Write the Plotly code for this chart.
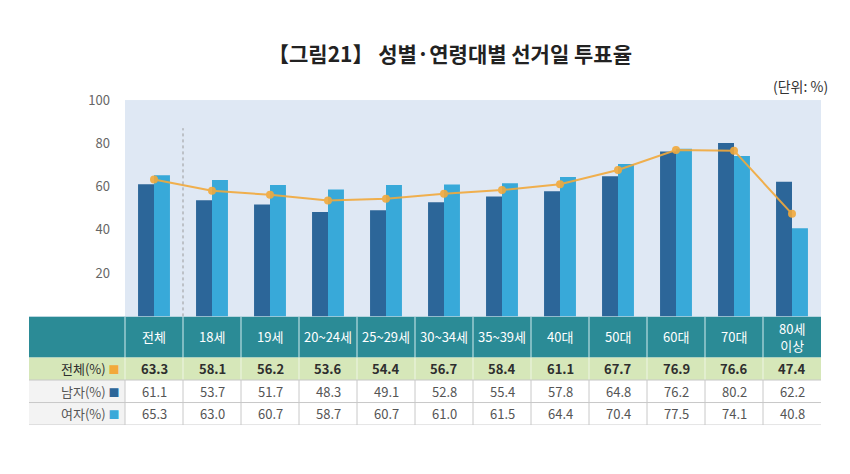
import plotly.graph_objects as go

categories = ["전체", "18세", "19세", "20~24세", "25~29세", "30~34세", "35~39세",
              "40대", "50대", "60대", "70대", "80세<br>이상"]
total = [63.3, 58.1, 56.2, 53.6, 54.4, 56.7, 58.4, 61.1, 67.7, 76.9, 76.6, 47.4]
male = [61.1, 53.7, 51.7, 48.3, 49.1, 52.8, 55.4, 57.8, 64.8, 76.2, 80.2, 62.2]
female = [65.3, 63.0, 60.7, 58.7, 60.7, 61.0, 61.5, 64.4, 70.4, 77.5, 74.1, 40.8]
row_labels = ["전체(%)", "남자(%)", "여자(%)"]
y_ticks = [20, 40, 60, 80, 100]

C_MALE = "#2c6699"
C_FEMALE = "#38a9d9"
C_TOTAL = "#f2a93b"
C_HEAD = "#2b8b96"
C_GREEN = "#d6e7b9"
C_LGRAY = "#f3f3f3"
C_GRID = "#c8c8c8"
FONT = "Noto Sans CJK KR"

W, H = 850, 474
n = len(categories)
x = list(range(n))

# table geometry (pixels)
TABLE_LEFT, PLOT_LEFT, PLOT_RIGHT = 29, 125, 821
PLOT_TOP, PLOT_BOTTOM = 92, 313
HEADER_H, ROW_H = 42, 23
col_w = (PLOT_RIGHT - PLOT_LEFT) / n
label_w = (PLOT_LEFT - TABLE_LEFT) / col_w          # in category units
table_h = HEADER_H + ROW_H * len(row_labels)

fig = go.Figure()
fig.add_trace(go.Bar(x=x, y=male, marker_color=C_MALE, marker_line_width=0,
                     name="남자", showlegend=False))
fig.add_trace(go.Bar(x=x, y=female, marker_color=C_FEMALE, marker_line_width=0,
                     name="여자", showlegend=False))
fig.add_trace(go.Scatter(x=x, y=total, mode="lines+markers", name="전체",
                         line=dict(color=C_TOTAL, width=2),
                         marker=dict(color=C_TOTAL, size=8), opacity=0.9,
                         showlegend=False))

# ---- table (drawn on its own axes x2/y2) ----
xl = -0.5 - label_w
shapes = []
annotations = []
row_edges = [0, HEADER_H] + [HEADER_H + ROW_H * (k + 1) for k in range(len(row_labels))]

# header
shapes.append(dict(type="rect", xref="x2", yref="y2", x0=xl, x1=n - 0.5,
                   y0=0, y1=HEADER_H, fillcolor=C_HEAD, line=dict(width=0), layer="above"))
for i in range(n):
    shapes.append(dict(type="line", xref="x2", yref="y2", x0=i - 0.5, x1=i - 0.5,
                       y0=0, y1=HEADER_H, line=dict(color="#b9dde1", width=1.2), layer="above"))
    annotations.append(dict(text=categories[i], xref="x2", yref="y2", x=i, y=HEADER_H / 2,
                            showarrow=False, xanchor="center", yanchor="middle",
                            font=dict(family=FONT, size=13, color="white")))

# body rows
row_vals = [total, male, female]
row_fill = [C_GREEN, "white", "white"]
label_fill = [C_GREEN, C_LGRAY, C_LGRAY]
row_font = ["#2e2e2e", "#555555", "#555555"]
row_vline = ["#eef5e4", C_GRID, C_GRID]
squares = [C_TOTAL, C_MALE, C_FEMALE]
for r, (lab, vals) in enumerate(zip(row_labels, row_vals)):
    y0, y1 = row_edges[r + 1], row_edges[r + 2]
    ym = (y0 + y1) / 2
    shapes.append(dict(type="rect", xref="x2", yref="y2", x0=xl, x1=-0.5, y0=y0, y1=y1,
                       fillcolor=label_fill[r], line=dict(width=0), layer="above"))
    shapes.append(dict(type="rect", xref="x2", yref="y2", x0=-0.5, x1=n - 0.5, y0=y0, y1=y1,
                       fillcolor=row_fill[r], line=dict(width=0), layer="above"))
    if r > 0:
        shapes.append(dict(type="line", xref="x2", yref="y2", x0=xl, x1=n - 0.5, y0=y0, y1=y0,
                           line=dict(color=C_GRID, width=1), layer="above"))
    for i in range(n):
        shapes.append(dict(type="line", xref="x2", yref="y2", x0=i - 0.5, x1=i - 0.5,
                           y0=y0, y1=y1, line=dict(color=row_vline[r], width=1), layer="above"))
    annotations.append(dict(
        text=f"{lab} <span style='color:{squares[r]};font-size:11px'>■</span>",
        xref="x2", yref="y2", x=-0.5 - 0.05, y=ym, showarrow=False,
        xanchor="right", yanchor="middle",
        font=dict(family=FONT, size=13, color=row_font[r])))
    for i, v in enumerate(vals):
        txt = f"<b>{v:.1f}</b>" if r == 0 else f"{v:.1f}"
        annotations.append(dict(text=txt, xref="x2", yref="y2", x=i, y=ym, showarrow=False,
                                xanchor="center", yanchor="middle",
                                font=dict(family=FONT, size=13, color=row_font[r])))
# bottom line
shapes.append(dict(type="line", xref="x2", yref="y2", x0=xl, x1=n - 0.5,
                   y0=table_h, y1=table_h, line=dict(color=C_GRID, width=1), layer="above"))

# dotted separator between 전체 and 18세
shapes.append(dict(type="line", xref="x", yref="y", x0=0.5, x1=0.5, y0=0, y1=87,
                   line=dict(color="#9a9a9a", width=1, dash="dot")))

annotations.append(dict(text="<b>【그림21】 성별·연령대별 선거일 투표율</b>", xref="paper", yref="paper",
                        x=450 / W, y=1 - 44 / H, showarrow=False, xanchor="center",
                        yanchor="middle", font=dict(family=FONT, size=21, color="#222222")))
annotations.append(dict(text="(단위: %)", xref="paper", yref="paper",
                        x=830 / W, y=1 - 78 / H, showarrow=False, xanchor="right",
                        yanchor="middle", font=dict(family=FONT, size=14, color="#333333")))

fig.update_layout(
    width=W, height=H,
    margin=dict(l=0, r=0, t=0, b=0),
    paper_bgcolor="white",
    plot_bgcolor="#dfe8f4",
    barmode="group", bargap=0.45, bargroupgap=0,
    font=dict(family=FONT),
    shapes=shapes, annotations=annotations,
    xaxis=dict(domain=[PLOT_LEFT / W, PLOT_RIGHT / W], range=[-0.5, n - 0.5],
               showticklabels=False, showgrid=False, zeroline=False, fixedrange=True),
    yaxis=dict(domain=[1 - PLOT_BOTTOM / H, 1 - PLOT_TOP / H], range=[0, 100],
               tickvals=y_ticks, showgrid=False, zeroline=False, ticks="",
               ticklabelstandoff=14, fixedrange=True,
               tickfont=dict(family=FONT, size=13, color="#666666")),
    xaxis2=dict(domain=[TABLE_LEFT / W, PLOT_RIGHT / W], range=[xl, n - 0.5],
                anchor="y2", visible=False, fixedrange=True),
    yaxis2=dict(domain=[1 - (PLOT_BOTTOM + table_h) / H, 1 - PLOT_BOTTOM / H],
                range=[table_h, 0], anchor="x2", visible=False, fixedrange=True),
)

fig.write_html("out.html", config={"displayModeBar": False},
               post_script="document.body.style.margin='0';")
